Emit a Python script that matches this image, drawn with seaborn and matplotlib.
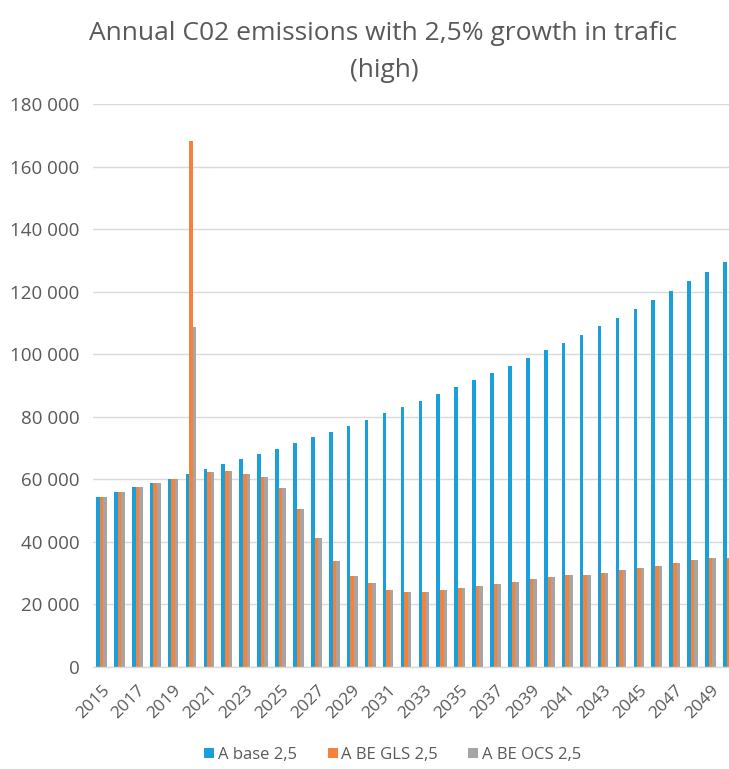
import matplotlib
matplotlib.use("Agg")
import matplotlib.pyplot as plt
from matplotlib.lines import Line2D
from matplotlib.ticker import FuncFormatter, MultipleLocator
import seaborn as sns
import pandas as pd

years = list(range(2015, 2051))

base = [54400, 55900, 57400, 58800, 60200, 61800, 63300, 64900, 66500, 68100,
        69800, 71500, 73400, 75200, 77150, 79050, 81100, 83100, 85150, 87250,
        89500, 91750, 94000, 96300, 98800, 101200, 103650, 106200, 108950, 111600,
        114500, 117350, 120250, 123300, 126300, 129450]

gls = [54400, 55900, 57400, 58800, 60200, 168300, 62400, 62600, 61650, 60650,
       57100, 50650, 41200, 33900, 29100, 26950, 24700, 24100, 24100, 24600,
       25150, 25900, 26550, 27300, 28000, 28700, 29400, 29400, 30150, 30900,
       31650, 32400, 33250, 34100, 34950, 34950]

ocs = [54400, 55900, 57400, 58800, 60200, 108700, 62400, 62600, 61650, 60650,
       57100, 50650, 41200, 33900, 29100, 26950, 24700, 24100, 24100, 24600,
       25150, 25900, 26550, 27300, 28000, 28700, 29400, 29400, 30150, 30900,
       31650, 32400, 33250, 34100, 34950, 34950]

series_names = ["A base 2,5", "A BE GLS 2,5", "A BE OCS 2,5"]
colors = ["#199FD9", "#F5823A", "#A5A5A5"]
text_color = "#595959"

df = pd.DataFrame({
    "year": [str(y) for y in years] * 3,
    "value": base + gls + ocs,
    "series": [s for s in series_names for _ in years],
})

sns.set_theme(style="white")
plt.rcParams["font.family"] = ["Open Sans", "DejaVu Sans"]

fig = plt.figure(figsize=(7.29, 7.69), dpi=100)
# plot area runs a little past the right edge of the canvas
ax = fig.add_axes([92.5 / 729, 1 - 667 / 769, 645 / 729, (667 - 104) / 769])

sns.barplot(data=df, x="year", y="value", hue="series", palette=colors,
            width=0.6, dodge=True, ax=ax, legend=False, saturation=1,
            linewidth=0)

ax.set_xlim(-0.5, len(years) - 0.5)
ax.set_ylim(0, 180000)
ax.yaxis.set_major_locator(MultipleLocator(20000))
ax.yaxis.set_major_formatter(
    FuncFormatter(lambda v, _: f"{int(v):,}".replace(",", " ")))
ax.grid(axis="y", color="#D9D9D9", linewidth=1.0)
ax.set_axisbelow(True)
for s in ["top", "right", "left"]:
    ax.spines[s].set_visible(False)
ax.spines["bottom"].set_color("#D9D9D9")
ax.spines["bottom"].set_linewidth(1.0)

ax.set_xlabel("")
ax.set_ylabel("")
ax.tick_params(axis="y", length=0, pad=9.5, labelsize=13.5, labelcolor=text_color)
ax.tick_params(axis="x", length=0, pad=11, labelsize=12.5, labelcolor=text_color)

tick_pos = list(range(0, len(years), 2))
ax.set_xticks(tick_pos)
ax.set_xticklabels([str(years[i]) for i in tick_pos], rotation=45,
                   ha="right", rotation_mode="anchor")

fig.text(0.5247, 1 - 40 / 769, "Annual C02 emissions with 2,5% growth in trafic",
         ha="center", va="baseline", fontsize=19, color=text_color)
fig.text(0.5267, 1 - 77 / 769, "(high)",
         ha="center", va="baseline", fontsize=19, color=text_color)

handles = [Line2D([0], [0], marker="s", linestyle="", markersize=7,
                  markerfacecolor=c, markeredgewidth=0) for c in colors]
fig.legend(handles, series_names, loc="center", bbox_to_anchor=(0.537, 0.018),
           ncol=3, frameon=False, fontsize=12, labelcolor=text_color,
           handletextpad=0.05, columnspacing=1.7, handlelength=0.9)

fig.savefig("out.png", dpi=100)
